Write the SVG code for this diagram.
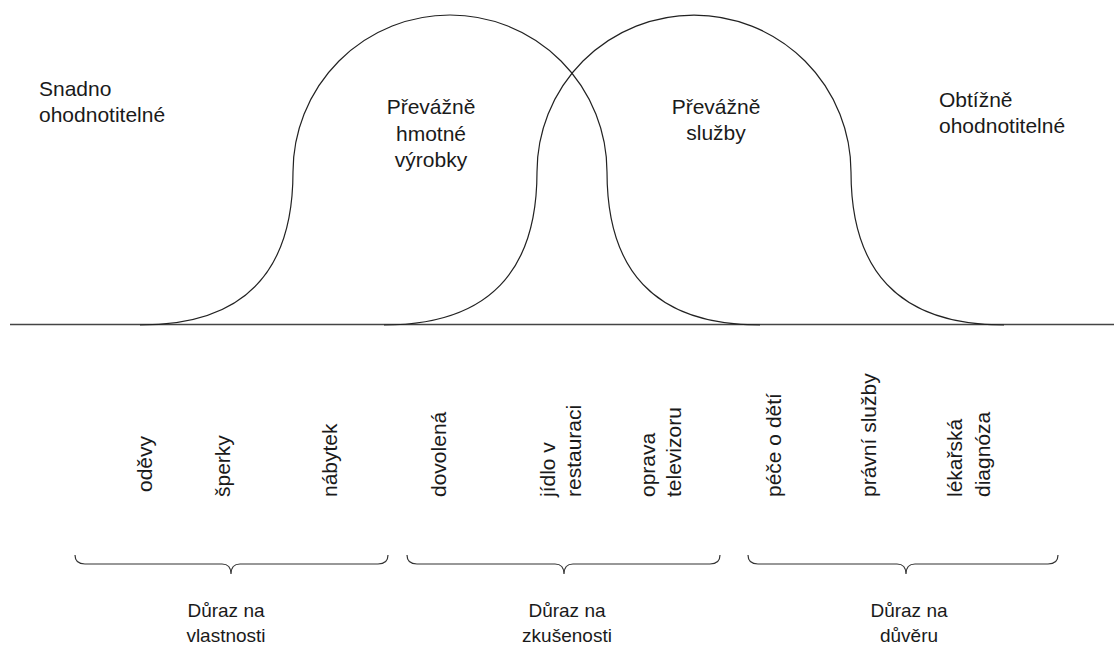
<svg xmlns="http://www.w3.org/2000/svg" width="1114" height="650" viewBox="0 0 1114 650">
<style>
.t{font-family:"Liberation Sans",Arial,sans-serif;font-size:21px;fill:#1a1a1a}
.s{font-size:19px}
.c{text-anchor:middle}
.curve{fill:none;stroke:#222;stroke-width:1.2}
.brace{fill:none;stroke:#333;stroke-width:1.2}
</style>
<rect width="1114" height="650" fill="#fff"/>
<g id="connectors">
<line x1="10" y1="324.5" x2="1114" y2="324.5" stroke="#444" stroke-width="1.6"/>
<path id="bell-left" class="curve" d="M140,325 C248,325 293,268 293,172 A157,157 0 0 1 607,172 C607,268 652,325 760,325"/>
<path id="bell-right" class="curve" d="M384,325 C492,325 537,268 537,172 A157,157 0 0 1 851,172 C851,268 896,325 1004,325"/>
</g>
<g id="label-snadno"><text class="t" x="39" y="96">Snadno</text><text class="t" x="39" y="122">ohodnotitelné</text></g>
<g id="label-hmotne"><text class="t c" x="431" y="114">Převážně</text><text class="t c" x="431" y="141">hmotné</text><text class="t c" x="431" y="167">výrobky</text></g>
<g id="label-sluzby"><text class="t c" x="716" y="114">Převážně</text><text class="t c" x="716" y="140">služby</text></g>
<g id="label-obtizne"><text class="t" x="939" y="107">Obtížně</text><text class="t" x="939" y="133">ohodnotitelné</text></g>
<g id="items">
<text class="t" transform="translate(152,492) rotate(-90)">oděvy</text>
<text class="t" transform="translate(230,497) rotate(-90)">šperky</text>
<text class="t" transform="translate(337,497) rotate(-90)">nábytek</text>
<text class="t" transform="translate(446,497) rotate(-90)">dovolená</text>
<text class="t" transform="translate(555,497) rotate(-90)">jídlo v</text>
<text class="t" transform="translate(581,497) rotate(-90)">restauraci</text>
<text class="t" transform="translate(655,497) rotate(-90)">oprava</text>
<text class="t" transform="translate(681,497) rotate(-90)">televizoru</text>
<text class="t" transform="translate(781,497) rotate(-90)">péče o dětí</text>
<text class="t" transform="translate(876,497) rotate(-90)">právní služby</text>
<text class="t" transform="translate(962,497) rotate(-90)">lékařská</text>
<text class="t" transform="translate(990,497) rotate(-90)">diagnóza</text>
</g>
<g id="brace-1"><path class="brace" d="M75,555 Q75,564 85,564 L222,564 Q231,564 231,574 Q231,564 240,564 L378,564 Q388,564 388,555"/><text class="t s c" x="226" y="617">Důraz na</text><text class="t s c" x="226" y="642">vlastnosti</text></g>
<g id="brace-2"><path class="brace" d="M407,555 Q407,564 417,564 L555,564 Q564,564 564,574 Q564,564 573,564 L710,564 Q720,564 720,555"/><text class="t s c" x="567" y="617">Důraz na</text><text class="t s c" x="567" y="642">zkušenosti</text></g>
<g id="brace-3"><path class="brace" d="M748,555 Q748,564 758,564 L897,564 Q906,564 906,574 Q906,564 915,564 L1048,564 Q1058,564 1058,555"/><text class="t s c" x="909" y="617">Důraz na</text><text class="t s c" x="909" y="642">důvěru</text></g>
</svg>
